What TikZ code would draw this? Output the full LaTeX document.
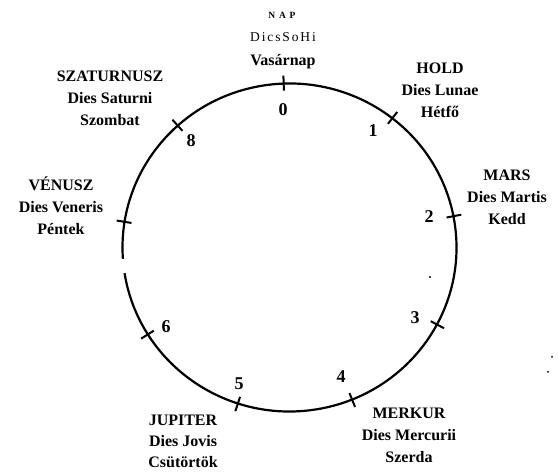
\documentclass[tikz,border=0pt]{standalone}
\usepackage{fontspec}
\setmainfont{Liberation Serif}
\usetikzlibrary{calc}
\begin{document}
\begin{tikzpicture}[x=1pt,y=1pt,
  planet/.style={font=\fontsize{16}{22}\selectfont\bfseries, align=center, inner sep=0pt},
  num/.style={font=\fontsize{18}{18}\selectfont\bfseries, inner sep=0pt},
  rim/.style={line width=2.2pt},
  tickmark/.style={line width=2pt},
  speck/.style={fill=black, draw=none}]
\useasboundingbox (0,0) rectangle (558,473);
\coordinate (c) at (289.5,225.5);
% circle with a small gap on the left
\draw[rim] (c) ++(189:167 and 164) arc[start angle=189, end angle=544, x radius=167, y radius=164];
% ticks
\foreach \a in {92,52,11,-28,-68,-108,-148,171,132}{
  \draw[tickmark] ($(c)+(\a:160 and 157)$) -- ($(c)+(\a:175 and 172)$);
}
% numbers
\node[num] (n0) at (283,363) {0};
\node[num] (n1) at (373,342) {1};
\node[num] (n2) at (429,256) {2};
\node[num] (n3) at (415,155) {3};
\node[num] (n4) at (341,96) {4};
\node[num] (n5) at (239,89) {5};
\node[num] (n6) at (166,146) {6};
\node[num] (n8) at (191,332) {8};
% top label
\node[font=\fontsize{9.5}{9.5}\selectfont\bfseries\addfontfeature{LetterSpace=40}, inner sep=0pt] (nap) at (282,458) {NAP};
\node[font=\fontsize{13.5}{13.5}\selectfont\addfontfeature{LetterSpace=14}, inner sep=0pt] (dies0) at (283,436) {DicsSoHi};
\node[planet] (vas) at (283,411) {Vasárnap};
% planets
\node[planet] (szat) at (110,375) {SZATURNUSZ\\Dies Saturni\\Szombat};
\node[planet] (hold) at (440,383) {HOLD\\Dies Lunae\\Hétfő};
\node[planet] (mars) at (507,276) {MARS\\Dies Martis\\Kedd};
\node[planet] (ven) at (61,267) {VÉNUSZ\\Dies Veneris\\Péntek};
\node[planet, font=\fontsize{16}{21}\selectfont\bfseries] (jup) at (183,32) {JUPITER\\Dies Jovis\\Csütörtök};
\node[planet] (merk) at (409,38) {MERKUR\\Dies Mercurii\\Szerda};
% specks
\fill[speck] (430,196) circle (1.2);
\fill[speck] (552,116) circle (1);
\fill[speck] (548,101) circle (1);
\end{tikzpicture}
\end{document}
